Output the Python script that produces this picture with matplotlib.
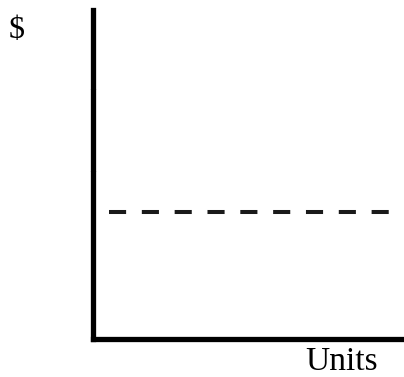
import matplotlib.pyplot as plt

# fixed cost line on a plain "$ vs Units" sketch (axes in 0..100 units)
x_range = [0, 100]
y_range = [0, 100]
fixed_cost_x = [5.1, 96.1]
fixed_cost_y = [38.6, 38.6]
axis_marks = [51.1, 76.0]

y_label = "$"
x_label = "Units"


def main():
    fig = plt.figure(figsize=(4.04, 3.77), dpi=100)
    ax = fig.add_axes([93 / 404, 38 / 377, 311 / 404, 329 / 377])

    ax.plot(fixed_cost_x, fixed_cost_y, color="#1a1a1a", lw=2.9,
            linestyle=(0, (4.25, 3.9)), dash_capstyle="butt")

    ax.set_xlim(x_range)
    ax.set_ylim(y_range)

    for side in ("top", "right"):
        ax.spines[side].set_visible(False)
    for side in ("left", "bottom"):
        ax.spines[side].set_linewidth(3.8)
        ax.spines[side].set_color("black")
        ax.spines[side].set_capstyle("projecting")

    ax.set_xticks([])
    ax.set_yticks(axis_marks)
    ax.set_yticklabels([])
    ax.tick_params(axis="y", color="#dddddd", direction="inout", length=5, width=0.7)
    ax.set_zorder(1)

    serif = ["Liberation Serif", "DejaVu Serif"]
    fig.text(17 / 404, 1 - 30 / 377, y_label, family=serif, fontsize=23,
             ha="center", va="center")
    fig.text(342 / 404, 1 - 370 / 377, x_label, family=serif, fontsize=24,
             ha="center", va="baseline")

    fig.savefig("out.png", dpi=100)


if __name__ == "__main__":
    main()
